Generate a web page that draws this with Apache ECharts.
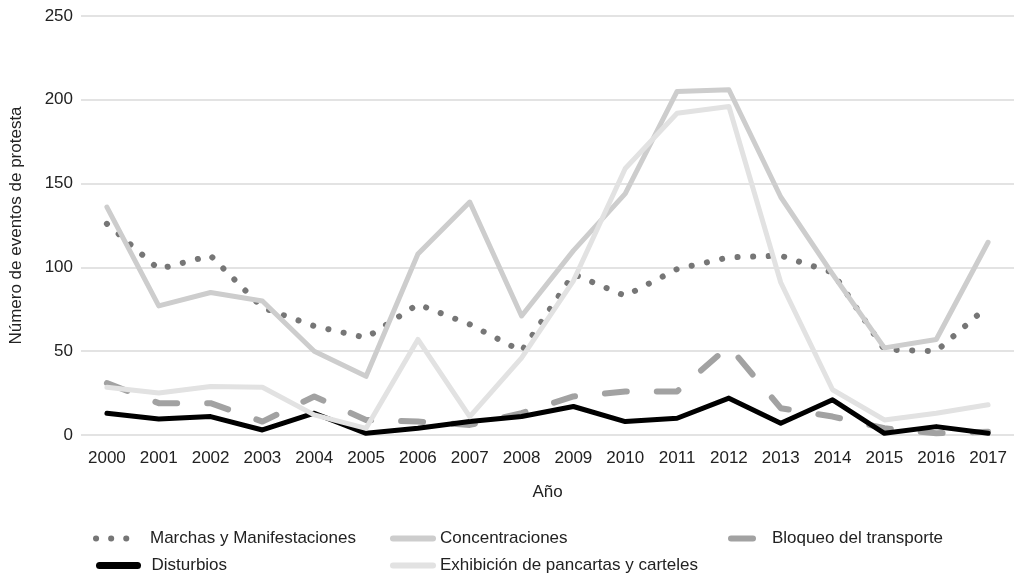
<!DOCTYPE html>
<html>
<head>
<meta charset="utf-8">
<script src="https://cdn.jsdelivr.net/npm/echarts@6/dist/echarts.min.js"></script>
<style>
html,body{margin:0;padding:0;background:#fff;}
#chart{width:1014px;height:575px;}
</style>
</head>
<body>
<div id="chart"></div>
<script>
const years = ['2000','2001','2002','2003','2004','2005','2006','2007','2008','2009','2010','2011','2012','2013','2014','2015','2016','2017'];
const marchas = [126, 99, 107, 76, 65, 58, 78, 66, 50, 96, 83, 99, 106, 107, 97, 51, 50, 77];
const concentraciones = [136, 77, 85, 80, 50, 35, 108, 139, 71, 110, 144, 205, 206, 142, 96, 52, 57, 115];
const bloqueo = [31, 19, 19, 8, 23, 9, 8, 6, 13, 23, 26, 26, 53, 16, 11, 4, 1, 2];
const disturbios = [13, 9.5, 11, 3, 13, 1, 4, 8, 11, 17, 8, 10, 22, 7, 21, 1, 5, 1];
const exhibicion = [28.5, 25, 29, 28.5, 12, 4, 57, 11, 46, 92, 159, 192, 196, 91, 27, 9, 13, 18];
const seriesNames = ['Marchas y Manifestaciones', 'Concentraciones', 'Bloqueo del transporte', 'Disturbios', 'Exhibición de pancartas y carteles'];

const FONT = 'Liberation Sans, Arial, Helvetica, sans-serif';
const TXT = '#222';
const chart = echarts.init(document.getElementById('chart'), null, {renderer: 'canvas'});

function legendFor(name, left, top, itemWidth, lineStyle, padLeft) {
  return {
    data: [name], left: left, top: top, orient: 'horizontal',
    itemWidth: itemWidth, itemHeight: 10, padding: 0, itemGap: 0,
    selectedMode: false,
    icon: 'inherit',
    itemStyle: {opacity: 0, borderWidth: 0},
    lineStyle: lineStyle,
    textStyle: {fontFamily: FONT, fontSize: 17, color: TXT, padding: [0, 0, 0, padLeft]}
  };
}

const option = {
  animation: false,
  backgroundColor: '#fff',
  grid: {left: 79, right: 0, top: 16, bottom: 140, containLabel: false},
  xAxis: {
    type: 'category', data: years, boundaryGap: true,
    name: 'Año', nameLocation: 'middle', nameGap: 49,
    nameTextStyle: {fontFamily: FONT, fontSize: 17, color: TXT},
    axisLine: {show: false}, axisTick: {show: false},
    axisLabel: {fontFamily: FONT, fontSize: 17, color: TXT, margin: 15}
  },
  yAxis: {
    type: 'value', min: 0, max: 250, interval: 50,
    name: 'Número de eventos de protesta', nameLocation: 'middle', nameGap: 56,
    nameTextStyle: {fontFamily: FONT, fontSize: 17, color: TXT},
    axisLine: {show: false}, axisTick: {show: false},
    axisLabel: {fontFamily: FONT, fontSize: 17, color: TXT, margin: 8},
    splitLine: {lineStyle: {color: '#e3e3e3', width: 2}}
  },
  legend: [
    legendFor(seriesNames[0], 93, 530, 33, {width: 6, type: [0.1, 15], cap: 'round'}, 16),
    legendFor(seriesNames[1], 390, 530, 40, {width: 6, cap: 'round'}, 2),
    legendFor(seriesNames[2], 728, 530, 22, {width: 6, cap: 'round'}, 14),
    legendFor(seriesNames[3], 96, 557, 38, {width: 7, cap: 'round'}, 9),
    legendFor(seriesNames[4], 390, 557, 40, {width: 6, cap: 'round'}, 2)
  ],
  series: [
    {name: seriesNames[0], type: 'line', data: marchas, symbol: 'none', z: 2,
     lineStyle: {color: '#767676', width: 6, type: [0.1, 15.5], cap: 'round', join: 'round'},
     itemStyle: {color: '#767676'}},
    {name: seriesNames[1], type: 'line', data: concentraciones, symbol: 'none', z: 3,
     lineStyle: {color: '#cdcdcd', width: 5, cap: 'round', join: 'round'},
     itemStyle: {color: '#cdcdcd'}},
    {name: seriesNames[2], type: 'line', data: bloqueo, symbol: 'none', z: 4,
     lineStyle: {color: '#a2a2a2', width: 6, type: [22, 30], cap: 'round', join: 'round'},
     itemStyle: {color: '#a2a2a2'}},
    {name: seriesNames[3], type: 'line', data: disturbios, symbol: 'none', z: 5,
     lineStyle: {color: '#000000', width: 5, cap: 'round', join: 'round'},
     itemStyle: {color: '#000000'}},
    {name: seriesNames[4], type: 'line', data: exhibicion, symbol: 'none', z: 6,
     lineStyle: {color: '#e2e2e2', width: 5, cap: 'round', join: 'round'},
     itemStyle: {color: '#e2e2e2'}}
  ]
};
chart.setOption(option);
</script>
</body>
</html>
